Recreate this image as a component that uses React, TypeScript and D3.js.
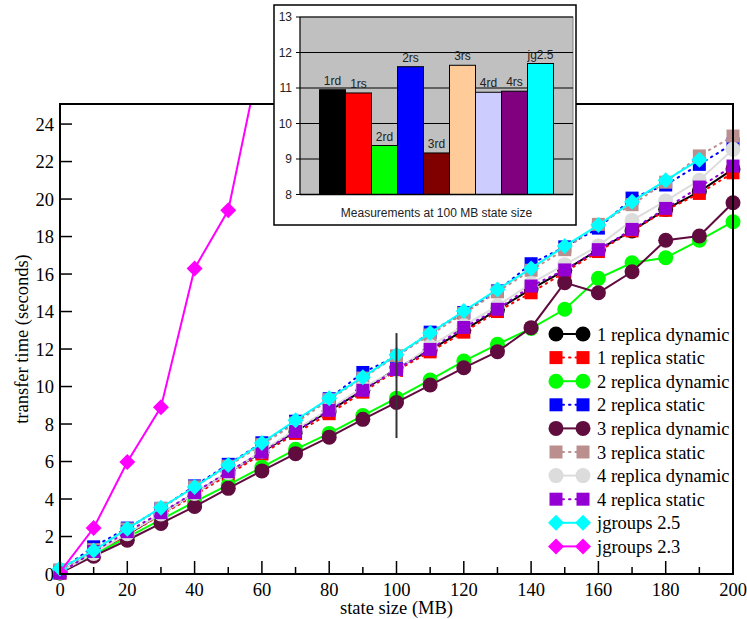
import React from 'react';
import * as d3 from 'd3';

// ---------- data ----------
const stateSizes = [0, 10, 20, 30, 40, 50, 60, 70, 80, 90, 100, 110, 120, 130, 140, 150, 160, 170, 180, 190, 200];
const rep1Dynamic = [0.1, 1.1, 2.1, 3.2, 4.3, 5.4, 6.5, 7.6, 8.7, 9.8, 10.95, 11.95, 13.0, 14.1, 15.2, 16.2, 17.3, 18.3, 19.45, 20.4, 21.6];
const rep1Static = [0.05, 1.05, 2.1, 3.15, 4.2, 5.3, 6.4, 7.5, 8.55, 9.7, 10.86, 11.85, 12.9, 14.0, 15.0, 16.1, 17.2, 18.3, 19.4, 20.3, 21.4];
const rep2Dynamic = [0.05, 1.05, 1.95, 2.9, 3.85, 4.75, 5.7, 6.65, 7.5, 8.45, 9.38, 10.35, 11.36, 12.25, 13.1, 14.12, 15.77, 16.6, 16.87, 17.8, 18.79];
const rep2Static = [0.2, 1.45, 2.45, 3.5, 4.7, 5.85, 7.0, 8.15, 9.35, 10.75, 11.6, 12.9, 13.95, 15.1, 16.55, 17.45, 18.45, 20.05, 20.75, 21.85, 22.95];
const rep3Dynamic = [0.05, 0.95, 1.8, 2.7, 3.6, 4.57, 5.5, 6.42, 7.3, 8.25, 9.15, 10.08, 11.0, 11.86, 13.14, 15.54, 15.0, 16.12, 17.8, 18.03, 19.8];
const rep3Static = [0.2, 1.3, 2.4, 3.5, 4.65, 5.75, 6.9, 8.05, 9.3, 10.45, 11.64, 12.75, 13.9, 15.05, 16.2, 17.3, 18.65, 19.7, 20.9, 22.3, 23.36];
const rep4Dynamic = [0.1, 1.1, 2.15, 3.2, 4.3, 5.4, 6.55, 7.7, 8.8, 9.95, 10.88, 12.15, 13.25, 14.3, 15.5, 16.5, 17.5, 18.86, 19.9, 21.0, 22.65];
const rep4Static = [0.05, 1.2, 2.26, 3.27, 4.34, 5.46, 6.5, 7.6, 8.73, 9.8, 10.91, 11.98, 13.15, 14.12, 15.36, 16.22, 17.3, 18.38, 19.5, 20.64, 21.76];
const jg25Sizes = [0, 10, 20, 30, 40, 50, 60, 70, 80, 90, 100, 110, 120, 130, 140, 150, 160, 170, 180, 190];
const jg25 = [0.3, 1.25, 2.42, 3.54, 4.64, 5.81, 6.99, 8.2, 9.37, 10.5, 11.69, 12.85, 14.03, 15.18, 16.3, 17.49, 18.61, 19.86, 21.0, 22.1];
const jg23Sizes = [0, 10, 20, 30, 40, 50, 60];
const jg23 = [0.1, 2.45, 5.97, 8.9, 16.3, 19.4, 28];

const seriesNames = [
  '1 replica dynamic', '1 replica static', '2 replica dynamic', '2 replica static',
  '3 replica dynamic', '3 replica static', '4 replica dynamic', '4 replica static',
  'jgroups 2.5', 'jgroups 2.3',
];

const errorBarX = [100];
const errorBarLow = [7.25];
const errorBarHigh = [12.85];

const xMajorTicks = [0, 20, 40, 60, 80, 100, 120, 140, 160, 180, 200];
const xMinorTicks = [10, 30, 50, 70, 90, 110, 130, 150, 170, 190];
const yTicks = [0, 2, 4, 6, 8, 10, 12, 14, 16, 18, 20, 22, 24];

const insetCategories = ['1rd', '1rs', '2rd', '2rs', '3rd', '3rs', '4rd', '4rs', 'jg2.5'];
const insetValues = [10.95, 10.86, 9.38, 11.6, 9.17, 11.64, 10.88, 10.91, 11.69];
const insetTicks = [8, 9, 10, 11, 12, 13];

// ---------- styles ----------
const insetColors = ['#000000', '#ff0000', '#00ff00', '#0000ff', '#800000', '#ffcc99', '#ccccff', '#800080', '#00ffff'];

type Marker = 'circle' | 'square' | 'diamond';
interface Series { name: string; xs: number[]; ys: number[]; color: string; marker: Marker; dotted: boolean; clip?: boolean }

const series: Series[] = [
  { name: seriesNames[0], xs: stateSizes, ys: rep1Dynamic, color: '#000000', marker: 'circle', dotted: false },
  { name: seriesNames[1], xs: stateSizes, ys: rep1Static, color: '#ff0000', marker: 'square', dotted: true },
  { name: seriesNames[2], xs: stateSizes, ys: rep2Dynamic, color: '#00ff00', marker: 'circle', dotted: false },
  { name: seriesNames[3], xs: stateSizes, ys: rep2Static, color: '#0000ff', marker: 'square', dotted: true },
  { name: seriesNames[4], xs: stateSizes, ys: rep3Dynamic, color: '#600c3e', marker: 'circle', dotted: false },
  { name: seriesNames[5], xs: stateSizes, ys: rep3Static, color: '#bc8f8f', marker: 'square', dotted: true },
  { name: seriesNames[6], xs: stateSizes, ys: rep4Dynamic, color: '#dcdcdc', marker: 'circle', dotted: false },
  { name: seriesNames[7], xs: stateSizes, ys: rep4Static, color: '#9400d3', marker: 'square', dotted: true },
  { name: seriesNames[8], xs: jg25Sizes, ys: jg25, color: '#00ffff', marker: 'diamond', dotted: false },
  { name: seriesNames[9], xs: jg23Sizes, ys: jg23, color: '#ff00ff', marker: 'diamond', dotted: false, clip: true },
];

const W = 747;
const H = 619;
const PL = 60, PR = 733, PT = 104, PB = 574;
const FS = 18.5;

function MarkerShape({ x, y, type, color }: { x: number; y: number; type: Marker; color: string }) {
  if (type === 'circle') return <circle cx={x} cy={y} r={7.5} fill={color} />;
  if (type === 'square') return <rect x={x - 6.5} y={y - 6.5} width={13} height={13} fill={color} />;
  const r = 8;
  return <path d={`M${x},${y - r}L${x + r},${y}L${x},${y + r}L${x - r},${y}Z`} fill={color} />;
}

export default function App() {
  const x = d3.scaleLinear().domain([0, 200]).range([PL, PR]);
  const y = d3.scaleLinear().domain([0, 25.07]).range([PB, PT]);
  const line = d3.line<[number, number]>().x(d => x(d[0])).y(d => y(d[1]));

  // inset
  const IL = 300, IR = 573, IT = 17, IB = 194.5;
  const ix = d3.scaleBand<string>().domain(insetCategories).range([IL, IR]).paddingInner(0).paddingOuter(0.75);
  const iy = d3.scaleLinear().domain([8, 13]).range([IB, IT]);

  const legendX1 = 556, legendX2 = 583, legendTextX = 597, legendY0 = 334, legendDy = 23.6;

  return (
    <svg width={W} height={H} style={{ position: 'absolute', left: 0, top: 0, background: '#fff' }}
      fontFamily="'Liberation Serif', 'Times New Roman', serif">
      <defs>
        <clipPath id="plotClip">
          <rect x={PL} y={PT} width={PR - PL} height={PB - PT} />
        </clipPath>
      </defs>
      <rect x={0} y={0} width={W} height={H} fill="#fff" />

      {/* series */}
      {series.map((s, i) => {
        const pts: [number, number][] = s.xs.map((v, k) => [v, s.ys[k]]);
        return (
          <g key={i} clipPath={s.clip ? 'url(#plotClip)' : undefined}>
            <path d={line(pts) || ''} fill="none" stroke={s.color} strokeWidth={2}
              strokeDasharray={s.dotted ? '1.5,5' : undefined} strokeLinecap={s.dotted ? 'round' : 'butt'} />
            {pts.map((p, k) => <MarkerShape key={k} x={x(p[0])} y={y(p[1])} type={s.marker} color={s.color} />)}
          </g>
        );
      })}

      {/* error bar */}
      {errorBarX.map((v, i) => (
        <line key={i} x1={x(v)} x2={x(v)} y1={y(errorBarLow[i])} y2={y(errorBarHigh[i])} stroke="#333" strokeWidth={2} />
      ))}

      {/* frame */}
      <rect x={PL} y={PT} width={PR - PL} height={PB - PT} fill="none" stroke="#000" strokeWidth={2} />

      {/* y ticks */}
      {yTicks.map(t => (
        <g key={t}>
          <line x1={PL} x2={PL + 12} y1={y(t)} y2={y(t)} stroke="#000" strokeWidth={1.5} />
          <text x={54} y={y(t) + 6.5} textAnchor="end" fontSize={FS}>{t}</text>
        </g>
      ))}
      {/* x ticks */}
      {xMajorTicks.map(t => (
        <g key={t}>
          <line x1={x(t)} x2={x(t)} y1={PB} y2={PB - 13} stroke="#000" strokeWidth={1.5} />
          <text x={x(t)} y={PB + 21.5} textAnchor="middle" fontSize={FS}>{t}</text>
        </g>
      ))}
      {xMinorTicks.map(t => (
        <line key={t} x1={x(t)} x2={x(t)} y1={PB} y2={PB - 7} stroke="#000" strokeWidth={1.5} />
      ))}

      <text x={(PL + PR) / 2} y={614} textAnchor="middle" fontSize={FS}>state size (MB)</text>
      <text transform={`translate(28,${(PT + PB) / 2}) rotate(-90)`} textAnchor="middle" fontSize={FS}>transfer time (seconds)</text>

      {/* legend */}
      {series.map((s, i) => {
        const ly = legendY0 + i * legendDy;
        return (
          <g key={i}>
            <line x1={legendX1} x2={legendX2} y1={ly} y2={ly} stroke={s.color} strokeWidth={2}
              strokeDasharray={s.dotted ? '1.5,5' : undefined} strokeLinecap={s.dotted ? 'round' : 'butt'} />
            <MarkerShape x={legendX1} y={ly} type={s.marker} color={s.color} />
            <MarkerShape x={legendX2} y={ly} type={s.marker} color={s.color} />
            <text x={legendTextX} y={ly + 6.5} fontSize={FS}>{s.name}</text>
          </g>
        );
      })}

      {/* inset */}
      <g fontFamily="'Liberation Sans', Arial, sans-serif">
        <rect x={274} y={5} width={302} height={220} fill="#fff" stroke="#000" strokeWidth={1.5} />
        <rect x={IL} y={IT} width={IR - IL} height={IB - IT} fill="#c0c0c0" stroke="#808080" strokeWidth={1} />
        {insetTicks.map(t => (
          <g key={t}>
            {t > 8 && <line x1={IL} x2={IR} y1={iy(t)} y2={iy(t)} stroke="#000" strokeWidth={1} />}
            <line x1={IL - 4} x2={IL} y1={iy(t)} y2={iy(t)} stroke="#000" strokeWidth={1} />
            <text x={IL - 8} y={iy(t) + 4} textAnchor="end" fontSize={12} fill="#222">{t}</text>
          </g>
        ))}
        {insetCategories.map((c, i) => (
          <g key={c}>
            <rect x={ix(c)!} y={iy(insetValues[i])} width={ix.bandwidth()} height={IB - iy(insetValues[i])}
              fill={insetColors[i]} stroke="#000" strokeWidth={1} />
            <text x={ix(c)! + ix.bandwidth() / 2} y={iy(insetValues[i]) - 5} textAnchor="middle" fontSize={12} fill="#222">{c}</text>
          </g>
        ))}
        <line x1={IL} x2={IL} y1={IT} y2={IB} stroke="#000" strokeWidth={1} />
        <line x1={IL} x2={IR} y1={IB} y2={IB} stroke="#000" strokeWidth={1.5} />
        <text x={(IL + IR) / 2} y={217} textAnchor="middle" fontSize={12} fill="#222">Measurements at 100 MB state size</text>
      </g>
    </svg>
  );
}
